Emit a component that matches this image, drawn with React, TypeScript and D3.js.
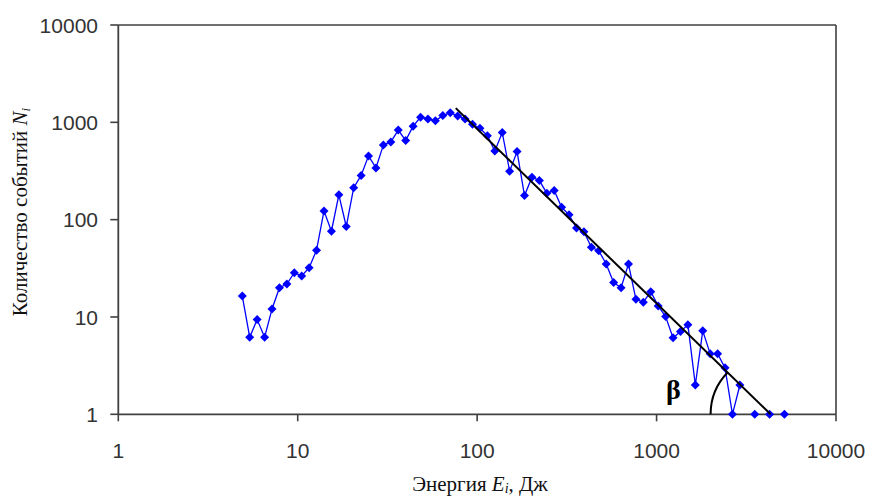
import React from "react";
import * as d3 from "d3";

const energies: number[] = [
  4.91, 5.4, 5.94, 6.54, 7.19, 7.91, 8.7, 9.57, 10.52, 11.58,
  12.73, 14.01, 15.41, 16.95, 18.64, 20.51, 22.56, 24.81, 27.29, 30.02,
  33.03, 36.33, 39.96, 43.96, 48.36, 53.19, 58.51, 64.36, 70.8, 77.88,
  85.66, 94.23, 103.65, 114.02, 125.42, 137.96, 151.76, 166.93, 183.63, 201.99,
  222.19, 244.41, 268.85, 295.73, 325.31, 357.84, 393.62, 432.98, 476.28, 523.91,
  576.3, 633.93, 697.32, 767.06, 843.76, 928.14, 1020.95, 1123.05, 1235.35, 1358.89,
  1494.78, 1644.25, 1808.68, 1989.55, 2188.5, 2407.35, 2648.09, 2912.9, 3204.2, 3524.6,
  3877.1, 4264.8, 4691.3, 5160.4,
];

// 0 = no events (not drawn on the log axis)
const counts: number[] = [
  16.4, 6.2, 9.4, 6.2, 12.1, 20, 21.8, 28.5, 26.4, 32.1,
  48.6, 123, 76, 180, 85, 213, 285, 452, 340, 586,
  629, 832, 651, 914, 1128, 1084, 1038, 1172, 1256, 1163,
  1084, 956, 869, 730, 506, 787, 315, 500, 177, 273,
  252, 187, 199, 134, 112, 82, 75, 52, 48, 35,
  22.6, 20, 35, 15.2, 14.2, 18.2, 13, 10.1, 6.1, 7.1,
  8.3, 2, 7.2, 4.2, 4.2, 3, 1, 2, 0, 1,
  0, 1, 0, 1,
];

const fitEnergies: number[] = [76, 4320];
const fitCounts: number[] = [1400, 1];

const xTicks: number[] = [1, 10, 100, 1000, 10000];
const yTicks: number[] = [1, 10, 100, 1000, 10000];

export default function App() {
  const W = 870;
  const H = 496;
  const x = d3.scaleLog().domain([1, 10000]).range([118.3, 836]);
  const y = d3.scaleLog().domain([1, 10000]).range([414.3, 25]);

  const pts = energies.map((e, i) => ({ e, n: counts[i] }));
  const line = d3
    .line<{ e: number; n: number }>()
    .defined((d) => d.n > 0)
    .x((d) => x(d.e))
    .y((d) => y(d.n));

  const fit = fitEnergies.map((e, i) => ({ e, n: fitCounts[i] }));
  const fitLine = d3
    .line<{ e: number; n: number }>()
    .x((d) => x(d.e))
    .y((d) => y(d.n));

  // angle arc at the x-intercept of the fit line
  const cx = x(fitEnergies[1]);
  const cy = y(fitCounts[1]);
  const dx = x(fitEnergies[0]) - cx;
  const dy = y(fitCounts[0]) - cy;
  const ang = Math.atan2(-dy, -dx);
  const r = 60;
  const a0 = Math.PI;
  const a1 = Math.PI - ang;
  const arcPath = `M ${cx + r * Math.cos(a0)} ${cy} A ${r} ${r} 0 0 1 ${cx + r * Math.cos(a1)} ${cy - r * Math.sin(a1)}`;

  const axisColor = "#404040";
  const left = x(1);
  const right = x(10000);
  const top = y(10000);
  const bottom = y(1);

  return (
    <svg
      width={W}
      height={H}
      style={{ position: "absolute", left: 0, top: 0, background: "#fff" }}
    >
      <rect x={0} y={0} width={W} height={H} fill="#fff" />
      <line x1={left} x2={right} y1={top} y2={top} stroke={axisColor} strokeWidth={1.6} />
      <line x1={right} x2={right} y1={top} y2={bottom} stroke={axisColor} strokeWidth={1.6} />
      <line x1={left} x2={left} y1={top} y2={bottom} stroke={axisColor} strokeWidth={1.8} />
      <line x1={left} x2={right} y1={bottom} y2={bottom} stroke={axisColor} strokeWidth={1.8} />

      {yTicks.map((t) => (
        <g key={"y" + t}>
          <line x1={left - 8} x2={left} y1={y(t)} y2={y(t)} stroke={axisColor} strokeWidth={1.6} />
          <text
            x={98}
            y={y(t)}
            dy="0.36em"
            textAnchor="end"
            fontFamily="'Liberation Sans', Arial, sans-serif"
            fontSize={21}
            fill="#333"
          >
            {t}
          </text>
        </g>
      ))}
      {xTicks.map((t) => (
        <g key={"x" + t}>
          <line x1={x(t)} x2={x(t)} y1={bottom} y2={bottom + 7} stroke={axisColor} strokeWidth={1.6} />
          <text
            x={x(t)}
            y={458}
            textAnchor="middle"
            fontFamily="'Liberation Sans', Arial, sans-serif"
            fontSize={21}
            fill="#333"
          >
            {t}
          </text>
        </g>
      ))}

      <path d={line(pts) || ""} fill="none" stroke="#0000ff" strokeWidth={1.3} />
      {pts
        .filter((d) => d.n > 0)
        .map((d, i) => (
          <path
            key={i}
            d={`M ${x(d.e)} ${y(d.n) - 4.5} L ${x(d.e) + 4.5} ${y(d.n)} L ${x(d.e)} ${y(d.n) + 4.5} L ${x(d.e) - 4.5} ${y(d.n)} Z`}
            fill="#0000ff"
          />
        ))}

      <path d={fitLine(fit) || ""} fill="none" stroke="#000" strokeWidth={2} />
      <path d={arcPath} fill="none" stroke="#000" strokeWidth={2} />
      <text
        x={666}
        y={399}
        fontFamily="'Liberation Serif', 'Times New Roman', serif"
        fontWeight="bold"
        fontSize={28}
        fill="#000"
      >
        β
      </text>

      <text
        transform="translate(27,212) rotate(-90)"
        textAnchor="middle"
        fontFamily="'Liberation Serif', 'Times New Roman', serif"
        fontSize={21}
        fill="#111"
      >
        Количество событий <tspan fontStyle="italic">N</tspan>
        <tspan fontStyle="italic" fontSize={13} dy={3}>i</tspan>
      </text>
      <text
        x={480}
        y={491}
        textAnchor="middle"
        fontFamily="'Liberation Serif', 'Times New Roman', serif"
        fontSize={21}
        fill="#111"
      >
        Энергия <tspan fontStyle="italic">E</tspan>
        <tspan fontStyle="italic" fontSize={14} dy={2}>i</tspan>
        <tspan dy={-2}>, Дж</tspan>
      </text>
    </svg>
  );
}
